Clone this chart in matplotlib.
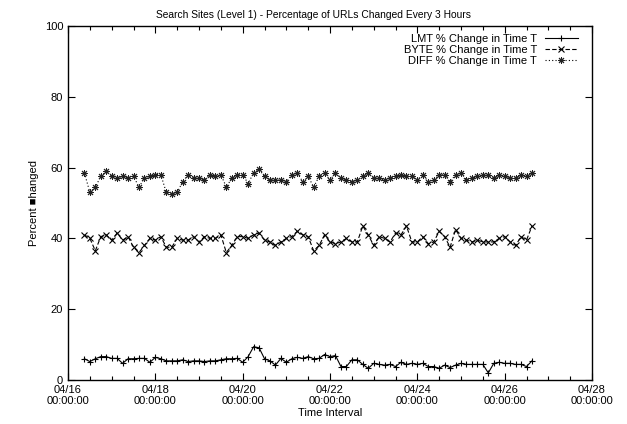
import matplotlib
matplotlib.use("Agg")
import matplotlib.pyplot as plt
import matplotlib.dates as mdates
import pandas as pd

plt.rcParams["font.family"] = ["Liberation Sans", "DejaVu Sans"]

# values, one sample every 3 hours
lmt = [6, 5.2, 6, 6.6, 6.6, 6.1, 6.1, 4.7, 6, 6, 6.1, 6.1, 5, 6.4, 6, 5.4, 5.4, 5.4, 5.7, 5.2,
       5.4, 5.4, 5.2, 5.4, 5.4, 5.7, 6, 6, 6.1, 5, 6.6, 9.4, 9.1, 6, 5.4, 4.2, 6.1, 5, 6, 6.4,
       6.1,
       6.6, 6, 6.1, 7.2, 6.6, 6.9, 3.8, 3.8, 5.7, 5.7, 4.4, 3.3, 4.7, 4.4, 4.2, 4.4, 3.8, 5, 4.4,
       4.7, 4.4, 4.7, 3.8, 3.8, 3.3, 4.2, 3.5, 4.2, 4.7, 4.4, 4.4, 4.4, 4.4, 2, 4.7, 5, 4.7, 4.7,
       4.4, 4.4, 3.8, 5.4]
byte = [41, 40, 36.5, 40.5, 41, 39.5, 41.5, 39.5, 40.5, 37.5, 36, 38, 40, 39.5, 40.5, 37.5, 37.5, 40, 39.5, 39.5,
        40.5, 39, 40.5, 40, 40, 41, 36, 38, 40.5, 40.5, 40, 41, 41.5, 39.5, 39, 38, 39, 40, 40.5, 42,
        41,
        40.5, 36.5, 38, 41, 39, 38.5, 39, 40, 39, 39, 43.5, 41, 38, 40.5, 40, 39, 41.5, 41, 43.5,
        39, 39, 40.5, 38.5, 39, 42, 40.5, 37.5, 42.5, 40, 39.5, 39, 39.5, 39, 39, 39, 40, 40.5, 39,
        38, 40.5, 39.5, 43.5]
diff = [58.5, 53, 54.5, 57.5, 59, 57.5, 57, 57.5, 57, 57.5, 54.5, 57, 57.5, 58, 58, 53, 52.5, 53, 56, 58,
        57, 57, 56.5, 58, 57.5, 58, 54.5, 57, 58, 58, 55.5, 58.5, 59.5, 57.5, 56.5, 56.5, 56.5, 56, 58, 58.5,
        56,
        57.5, 54.5, 57.5, 58.5, 56.5, 58.5, 57, 56.5, 56, 56.5, 57.5, 58.5, 57, 57, 56.5, 57, 57.5, 58, 57.5,
        57.5, 56.5, 58, 56, 56.5, 58, 58, 56, 58, 58.5, 56.5, 57, 57.5, 58, 58, 57, 58, 57.5, 57,
        57, 58, 57.5, 58.5]

times = pd.date_range("2001-04-16 09:00", periods=len(lmt), freq="3h")

fig = plt.figure(figsize=(6.27, 4.24), dpi=100)
ax = fig.add_axes([0.1085, 0.1038, 0.8357, 0.8349])

ax.plot(times, lmt, color="black", lw=0.8, ls="-", marker="+", ms=5, mew=0.8,
        label="LMT % Change in Time T")
ax.plot(times, byte, color="black", lw=0.8, ls=(0, (4, 2)), marker="x", ms=4.5, mew=0.8,
        label="BYTE % Change in Time T")
ax.plot(times, diff, color="black", lw=0.8, ls=(0, (1, 2)), marker=(8, 2, 0), ms=5, mew=0.7,
        mec="#222222", label="DIFF % Change in Time T")

ax.set_xlim(pd.Timestamp("2001-04-16"), pd.Timestamp("2001-04-28"))
ax.set_ylim(0, 100)
ax.set_yticks(range(0, 101, 20))
ax.xaxis.set_major_locator(mdates.DayLocator(interval=2))
ax.xaxis.set_minor_locator(mdates.HourLocator(byhour=[0, 12]))
ax.xaxis.set_major_formatter(mdates.DateFormatter("%m/%d\n%H:%M:%S"))

ax.tick_params(direction="in", top=True, right=True, labelsize=8, length=5, width=0.8)
ax.tick_params(which="minor", direction="in", top=True, length=3, width=0.8)
for s in ax.spines.values():
    s.set_linewidth(1.0)

# gnuplot centres the title on the whole page, not on the plot box
fig.text(0.5, 1 - 15 / 424, "Search Sites (Level 1) - Percentage of URLs Changed Every 3 Hours",
         ha="center", va="center", fontsize=7.4)
ax.set_xlabel("Time Interval", fontsize=8, labelpad=1)
ax.set_ylabel("Percent \u25a0hanged", fontsize=8, labelpad=4)

ax.legend(loc="upper right", bbox_to_anchor=(0.988, 1.0), frameon=False, markerfirst=False,
          fontsize=8, handlelength=3, labelspacing=0.1, borderaxespad=0.3, handletextpad=0.7)

fig.savefig("out.png", dpi=100)
